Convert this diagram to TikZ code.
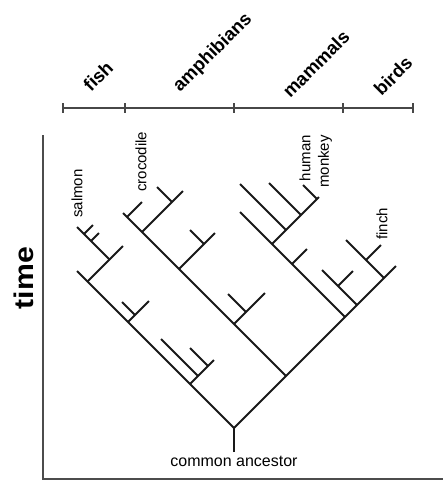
\documentclass[tikz,border=0pt]{standalone}
\usepackage{fontspec}
\setmainfont{Liberation Sans}
\begin{document}
\begin{tikzpicture}[x=1pt,y=-1pt,
  branch/.style={line width=1.9pt, black!90},
  axis/.style={line width=2.4pt, black!70},
  bar/.style={line width=2.3pt, black!72},
  group/.style={font=\bfseries\fontsize{18.5}{18.5}\selectfont, rotate=45, inner sep=0pt},
  taxon/.style={font=\fontsize{15}{15}\selectfont, rotate=90, inner sep=0pt},
]
\useasboundingbox (0,0) rectangle (443,480);

% time axes
\coordinate (ax0) at (43,135);
\coordinate (ax1) at (43,479);
\coordinate (ax2) at (443,479);
\draw[axis] (ax0) -- (ax1) -- (ax2);
\node[font=\bfseries\fontsize{27}{27}\selectfont, rotate=90, xscale=1.12, inner sep=0pt] (time) at (24,278) {time};

% group scale bar
\foreach \n/\x in {t0/63, t1/125, t2/234, t3/343, t4/413}{
  \coordinate (\n) at (\x,108);
  \coordinate (\n u) at (\x,103);
  \coordinate (\n d) at (\x,113);
  \draw[bar] (\n u) -- (\n d);
}
\draw[bar] (t0) -- (t4);
\node[group] (fish) at (98,76) {fish};
\node[group] (amph) at (213,53) {amphibians};
\node[group] (mamm) at (316,64) {mammals};
\node[group] (bird) at (393,76) {birds};

% root
\coordinate (R) at (234,428);
\coordinate (S) at (234,452);
\draw[branch] (S) -- (R);
\node[font=\fontsize{16}{16}\selectfont, anchor=base, inner sep=0pt] (anc) at (234,466) {common ancestor};

% main left lineage (fish)
\coordinate (L1) at (190,384);
\coordinate (L2) at (128,322);
\coordinate (L3) at (87.5,281.5);
\coordinate (Ltop) at (77,271);
\draw[branch] (R) -- (Ltop);

% fish clade near the base
\coordinate (f1e) at (214,360);
\coordinate (f1a) at (198,376);
\coordinate (f1ae) at (161,339);
\coordinate (f1b) at (208,366);
\coordinate (f1be) at (190,348);
\draw[branch] (L1) -- (f1e);
\draw[branch] (f1a) -- (f1ae);
\draw[branch] (f1b) -- (f1be);

% small fish clade
\coordinate (f2e) at (149,301);
\coordinate (f2a) at (135,315);
\coordinate (f2ae) at (122,302);
\draw[branch] (L2) -- (f2e);
\draw[branch] (f2a) -- (f2ae);

% salmon clade
\coordinate (s1e) at (123,246);
\coordinate (sn) at (109.5,259.5);
\coordinate (salm) at (77,227);
\coordinate (sa) at (84,234);
\coordinate (sae) at (93,225);
\coordinate (sb) at (91,241);
\coordinate (sbe) at (99,233);
\draw[branch] (L3) -- (s1e);
\draw[branch] (sn) -- (salm);
\draw[branch] (sa) -- (sae);
\draw[branch] (sb) -- (sbe);
\node[taxon, anchor=west] (salmon) at (77,218) {salmon};

% main right lineage
\coordinate (A) at (286,376);
\coordinate (M) at (345,317);
\coordinate (B1) at (357,305);
\coordinate (B2) at (384,278);
\coordinate (Rtop) at (396,266);
\draw[branch] (R) -- (Rtop);

% amphibian lineage
\coordinate (Atop) at (123,213);
\draw[branch] (A) -- (Atop);
\coordinate (a1) at (234,324);
\coordinate (a1e) at (265,293);
\coordinate (a1t) at (246,312);
\coordinate (a1te) at (228,294);
\draw[branch] (a1) -- (a1e);
\draw[branch] (a1t) -- (a1te);
\coordinate (a2) at (179,269);
\coordinate (a2e) at (215,233);
\coordinate (a2t) at (204,244);
\coordinate (a2te) at (190,230);
\draw[branch] (a2) -- (a2e);
\draw[branch] (a2t) -- (a2te);
\coordinate (a3) at (142,232);
\coordinate (a3e) at (183,191);
\coordinate (a3t) at (172,202);
\coordinate (a3te) at (157,187);
\draw[branch] (a3) -- (a3e);
\draw[branch] (a3t) -- (a3te);
\coordinate (a4) at (127,217);
\coordinate (croc) at (142,202);
\draw[branch] (a4) -- (croc);
\node[taxon, anchor=west] (crocodile) at (141,192) {crocodile};

% mammal lineage
\coordinate (Mtop) at (240,212);
\draw[branch] (M) -- (Mtop);
\coordinate (m1) at (292,264);
\coordinate (m1e) at (307,249);
\draw[branch] (m1) -- (m1e);
\coordinate (m2) at (272,244);
\coordinate (monk) at (319,197);
\draw[branch] (m2) -- (monk);
\coordinate (m2a) at (286,230);
\coordinate (m2ae) at (240,184);
\coordinate (m2b) at (301,215);
\coordinate (m2be) at (269,183);
\coordinate (m2c) at (317,199);
\coordinate (hum) at (303,185);
\draw[branch] (m2a) -- (m2ae);
\draw[branch] (m2b) -- (m2be);
\draw[branch] (m2c) -- (hum);
\node[taxon, anchor=east] (human) at (305,135) {human};
\node[taxon, anchor=east] (monkey) at (325,135) {monkey};

% bird lineage
\coordinate (b1e) at (322,270);
\coordinate (b1t) at (338,286);
\coordinate (b1te) at (353,271);
\draw[branch] (B1) -- (b1e);
\draw[branch] (b1t) -- (b1te);
\coordinate (b2e) at (346,240);
\coordinate (b2t) at (366,260);
\coordinate (fin) at (381,245);
\draw[branch] (B2) -- (b2e);
\draw[branch] (b2t) -- (fin);
\node[taxon, anchor=west] (finch) at (382,240) {finch};
\end{tikzpicture}
\end{document}
